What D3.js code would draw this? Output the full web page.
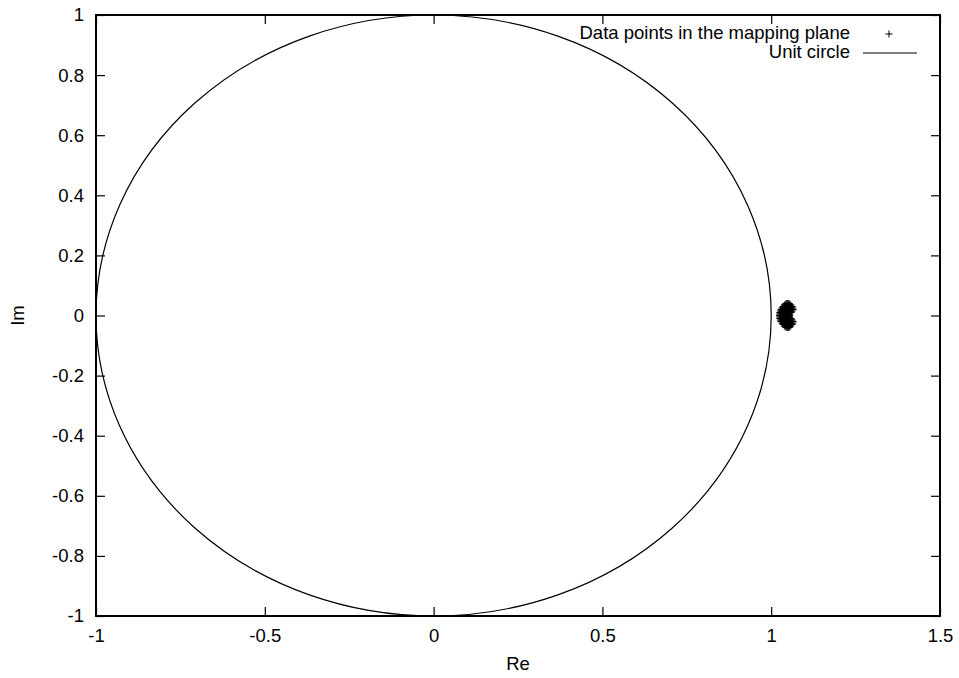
<html lang="en">
<head>
<meta charset="UTF-8">
<script src="https://d3js.org/d3.v7.min.js"></script>
<style>
    body { margin: 0; background: white; }
    text { font-family: "Liberation Sans", Arial, sans-serif; font-size: 18.5px; fill: black; }
</style>
</head>
<body>
<div id="chart"></div>
<script>
    // axis ticks
    const xTicks = [-1, -0.5, 0, 0.5, 1, 1.5];
    const xTickLabels = ["-1", "-0.5", "0", "0.5", "1", "1.5"];
    const yTicks = [-1, -0.8, -0.6, -0.4, -0.2, 0, 0.2, 0.4, 0.6, 0.8, 1];
    const yTickLabels = ["-1", "-0.8", "-0.6", "-0.4", "-0.2", "0", "0.2", "0.4", "0.6", "0.8", "1"];

    // unit circle
    const circleCenter = [0, 0];
    const circleRadius = 1;

    // data points in the mapping plane (rows of equal Im)
    const pointIm = [0.04, 0.035, 0.03, 0.025, 0.02, 0.015, 0.01, 0.005, 0,
                     -0.005, -0.01, -0.015, -0.02, -0.025, -0.03, -0.035, -0.04];
    const pointRe = [
        [1.044, 1.047, 1.050, 1.053],
        [1.039, 1.043, 1.047, 1.051, 1.055, 1.058],
        [1.035, 1.039, 1.043, 1.047, 1.051, 1.055, 1.059, 1.062],
        [1.032, 1.036, 1.040, 1.044, 1.048, 1.052, 1.056, 1.060, 1.064],
        [1.029, 1.033, 1.037, 1.041, 1.045, 1.049, 1.053, 1.057, 1.061, 1.065],
        [1.027, 1.031, 1.035, 1.039, 1.043, 1.047, 1.051, 1.055, 1.059, 1.062],
        [1.026, 1.030, 1.034, 1.038, 1.042, 1.046, 1.050, 1.054, 1.059],
        [1.025, 1.029, 1.033, 1.037, 1.041, 1.045, 1.049, 1.052, 1.055],
        [1.025, 1.029, 1.033, 1.037, 1.041, 1.045, 1.049, 1.054],
        [1.025, 1.029, 1.033, 1.037, 1.041, 1.045, 1.049, 1.052, 1.055],
        [1.026, 1.030, 1.034, 1.038, 1.042, 1.046, 1.050, 1.054, 1.059],
        [1.027, 1.031, 1.035, 1.039, 1.043, 1.047, 1.051, 1.055, 1.059, 1.062],
        [1.029, 1.033, 1.037, 1.041, 1.045, 1.049, 1.053, 1.057, 1.061, 1.065],
        [1.032, 1.036, 1.040, 1.044, 1.048, 1.052, 1.056, 1.060, 1.064],
        [1.035, 1.039, 1.043, 1.047, 1.051, 1.055, 1.059, 1.062],
        [1.039, 1.043, 1.047, 1.051, 1.055, 1.058],
        [1.044, 1.047, 1.050, 1.053]
    ];

    const legendLabels = ["Data points in the mapping plane", "Unit circle"];

    const W = 959, H = 678;
    const mLeft = 96, mRight = 940, mTop = 15, mBottom = 616;

    const x = d3.scaleLinear().domain([-1, 1.5]).range([mLeft, mRight]);
    const y = d3.scaleLinear().domain([-1, 1]).range([mBottom, mTop]);

    const svg = d3.select("#chart").append("svg")
        .attr("width", W)
        .attr("height", H);

    // axes - gnuplot style ticks pointing inward, mirrored on top/right
    const fmtX = d => xTickLabels[xTicks.indexOf(d)];
    const fmtY = d => yTickLabels[yTicks.indexOf(d)];

    const gx = svg.append("g").attr("transform", `translate(0,${mBottom})`)
        .call(d3.axisBottom(x).tickValues(xTicks).tickFormat(fmtX).tickSizeInner(-9).tickSizeOuter(0).tickPadding(13));
    const gx2 = svg.append("g").attr("transform", `translate(0,${mTop})`)
        .call(d3.axisTop(x).tickValues(xTicks).tickFormat("").tickSizeInner(-9).tickSizeOuter(0));
    const gy = svg.append("g").attr("transform", `translate(${mLeft},0)`)
        .call(d3.axisLeft(y).tickValues(yTicks).tickFormat(fmtY).tickSizeInner(-9).tickSizeOuter(0).tickPadding(12));
    const gy2 = svg.append("g").attr("transform", `translate(${mRight},0)`)
        .call(d3.axisRight(y).tickValues(yTicks).tickFormat("").tickSizeInner(-9).tickSizeOuter(0));

    [gx, gx2, gy, gy2].forEach(g => {
        g.attr("font-family", null).attr("font-size", null);
        g.select(".domain").remove();
        g.selectAll(".tick line").attr("stroke", "black").attr("stroke-width", 1.2);
    });

    // unit circle
    svg.append("ellipse")
        .attr("cx", x(circleCenter[0]))
        .attr("cy", y(circleCenter[1]))
        .attr("rx", x(circleRadius) - x(0))
        .attr("ry", y(-circleRadius) - y(0))
        .attr("fill", "none")
        .attr("stroke", "black")
        .attr("stroke-width", 1.2);

    // border
    svg.append("rect")
        .attr("x", mLeft).attr("y", mTop)
        .attr("width", mRight - mLeft).attr("height", mBottom - mTop)
        .attr("fill", "none")
        .attr("stroke", "black")
        .attr("stroke-width", 2);

    // data points as "+" markers
    const plus = "M-3.5,0H3.5M0,-3.5V3.5";
    const pts = [];
    pointIm.forEach((im, i) => pointRe[i].forEach(re => pts.push([re, im])));

    svg.append("g").selectAll("path")
        .data(pts)
        .enter()
        .append("path")
        .attr("d", plus)
        .attr("transform", d => `translate(${x(d[0])},${y(d[1])})`)
        .attr("fill", "none")
        .attr("stroke", "black")
        .attr("stroke-width", 1);

    // axis labels
    svg.append("text")
        .attr("x", (mLeft + mRight) / 2)
        .attr("y", 670)
        .attr("text-anchor", "middle")
        .text("Re");

    svg.append("text")
        .attr("transform", `translate(24,${(mTop + mBottom) / 2}) rotate(-90)`)
        .attr("text-anchor", "middle")
        .text("Im");

    // legend
    const legend = svg.append("g");
    legend.append("text")
        .attr("x", 850).attr("y", 39)
        .attr("text-anchor", "end")
        .text(legendLabels[0]);
    legend.append("path")
        .attr("d", plus)
        .attr("transform", "translate(889,34)")
        .attr("stroke", "black")
        .attr("stroke-width", 1);
    legend.append("text")
        .attr("x", 850).attr("y", 58)
        .attr("text-anchor", "end")
        .text(legendLabels[1]);
    legend.append("line")
        .attr("x1", 863).attr("x2", 917)
        .attr("y1", 53).attr("y2", 53)
        .attr("stroke", "black")
        .attr("stroke-width", 1.2);
</script>
</body>
</html>
